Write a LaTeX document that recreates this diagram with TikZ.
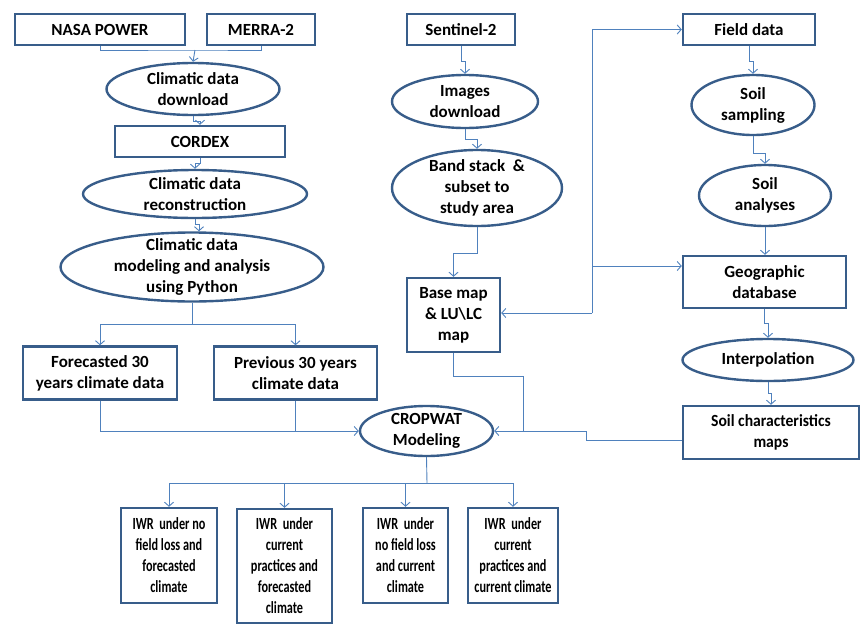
\documentclass[tikz,border=0pt]{standalone}
\usepackage{fontspec}
\setmainfont{Carlito}
\newfontfamily\condfont[FakeStretch=0.72]{Carlito}
\newfontfamily\semicondfont[FakeStretch=0.92]{Carlito}
\usetikzlibrary{shapes.geometric,arrows.meta}
\definecolor{bdr}{RGB}{56,93,138}
\definecolor{cnc}{RGB}{79,129,189}
\newcommand\myell[5]{\node[ellbox,minimum width=#3,minimum height=#4] (#1) at (#2) {};
  \node[txt] (#1-t) at (#1) {#5};}
\begin{document}
\begin{tikzpicture}[x=1pt,y=-1pt,
 every node/.style={font=\fontsize{17}{21}\selectfont\bfseries},
 box/.style={draw=bdr,line width=2.4pt,rectangle,inner sep=0pt,align=center},
 ellbox/.style={draw=bdr,line width=2.4pt,ellipse,inner sep=0pt},
 txt/.style={align=center,inner sep=0pt},
 iwr/.style={box,font=\condfont\fontsize{17}{21}\selectfont\bfseries},
 semi/.style={font=\semicondfont\fontsize{17}{21}\selectfont\bfseries},
 conn/.style={draw=cnc,line width=0.9pt},
 arr/.style={conn,-{Straight Barb[length=4pt,width=9pt]}}]
\useasboundingbox (0,0) rectangle (862,624);
% left column
\node[box,minimum width=170pt,minimum height=31pt] (nasa) at (100,29.5) {NASA POWER};
\node[box,minimum width=108pt,minimum height=31pt] (merra) at (261,29.5) {MERRA-2};
\myell{cdd}{193,89}{173pt}{52pt}{Climatic data\\download}
\node[box,minimum width=170pt,minimum height=31pt] (cordex) at (200,141.5) {CORDEX};
\myell{cdr}{195,194}{224pt}{48pt}{Climatic data\\reconstruction}
\myell{cdm}{192,267}{263pt}{69pt}{Climatic data\\modeling and analysis\\using Python}
\node[box,minimum width=154pt,minimum height=53pt] (fc) at (100,373) {Forecasted 30\\years climate data};
\node[box,minimum width=163pt,minimum height=53pt] (pv) at (295.5,373) {Previous 30 years\\climate data};
\myell{crop}{426.5,431}{133pt}{50pt}{CROPWAT\\Modeling}
% outputs
\node[iwr,minimum width=96pt,minimum height=95pt] (i1) at (169,555.5) {IWR \,under no\\field loss and\\forecasted\\climate};
\node[iwr,minimum width=95pt,minimum height=114pt] (i2) at (284.5,566) {IWR \,under\\current\\practices and\\forecasted\\climate};
\node[iwr,minimum width=85pt,minimum height=95pt] (i3) at (405.5,555.5) {IWR \,under\\no field loss\\and current\\climate};
\node[iwr,minimum width=90pt,minimum height=95pt] (i4) at (513,555.5) {IWR \,under\\current\\practices and\\current climate};
% middle and right
\node[box,minimum width=108pt,minimum height=31pt] (sen) at (461,29.5) {Sentinel-2};
\myell{img}{465,101.5}{146pt}{53pt}{Images\\download}
\myell{band}{477,188}{170pt}{76pt}{Band stack \ \&\\subset to\\study area}
\node[box,minimum width=93pt,minimum height=74pt] (base) at (453.5,315) {Base map\\\& LU\textbackslash LC\\map};
\node[box,minimum width=132pt,minimum height=31pt] (field) at (749,29.5) {Field data};
\myell{samp}{753,105}{123pt}{60pt}{Soil\\sampling}
\myell{anal}{765,195.5}{132pt}{61pt}{Soil\\analyses}
\node[box,minimum width=163pt,minimum height=52pt] (geo) at (764.5,282) {Geographic\\database};
\myell{interp}{768,360}{171pt}{42pt}{Interpolation}
\node[box,semi,minimum width=176pt,minimum height=53pt] (soil) at (771,432.5) {Soil characteristics\\maps};
% junctions
\coordinate (j1) at (195,50);
\coordinate (j2) at (192,324);
\coordinate (j3) at (523,431);
\coordinate (j4) at (427,483);
\coordinate (v1) at (592,29.5);
\coordinate (v2) at (592,266);
\coordinate (v3) at (592,313);
% connectors
\draw[conn] (nasa.south) |- (j1) -| (merra.south);
\draw[arr] (j1) -- (cdd.north);
\draw[arr] (cdd.south) -- ++(0,5) -| (cordex.north);
\draw[arr] (cordex.south) -- ++(0,5) -| (cdr.north);
\draw[arr] (cdr.south) -- ++(0,5) -| ([xshift=7pt]cdm.north);
\draw[conn] (cdm.south) -- (j2);
\draw[arr] (j2) -| (fc.north);
\draw[arr] (j2) -| (pv.north);
\draw[arr] (fc.south) |- (crop.west);
\draw[conn] (pv.south) -- (pv.south |- crop.west);
\draw[arr] (sen.south) -- ++(0,15) -| (img.north);
\draw[arr] (img.south) -- ++(0,10) -| (band.north);
\draw[arr] (band.south) -- ++(0,26) -| (base.north);
\draw[conn] (v3) -- (v1);
\draw[arr] (v1) -- (field.west);
\draw[arr] (v2) -- (v2 -| geo.west);
\draw[arr] (v3) -- (v3 -| base.east);
\draw[arr] (field.south) -- ++(0,15) -| (samp.north);
\draw[arr] (samp.south) -- ++(0,17) -| (anal.north);
\draw[arr] (anal.south) -- (anal.south |- geo.north);
\draw[arr] (geo.south) -- ++(0,14) -| (interp.north);
\draw[arr] (interp.south) -- ++(0,11) -| (soil.north);
\draw[conn] (base.south) -- ++(0,23) -| (j3);
\draw[conn] ([yshift=-8pt]soil.west) -- ++(-95,0) |- (j3);
\draw[arr] (j3) -- (crop.east);
\draw[conn] (crop.south) -- (j4);
\draw[arr] (j4) -| (i1.north);
\draw[arr] (j4) -| (i2.north);
\draw[arr] (j4) -| (i3.north);
\draw[arr] (j4) -| (i4.north);
\end{tikzpicture}
\end{document}
